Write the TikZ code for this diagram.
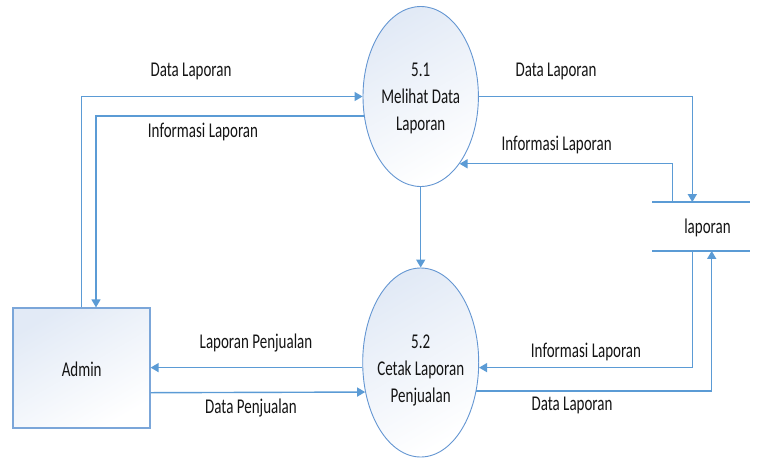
\documentclass[tikz,border=0pt]{standalone}
\usepackage{fontspec}
\setmainfont[FakeStretch=0.714]{Carlito}
\usetikzlibrary{shapes.geometric,arrows.meta}
\definecolor{flowblue}{RGB}{91,155,213}
\definecolor{edgeblue}{RGB}{100,150,210}
\definecolor{fillblue}{RGB}{226,234,246}
\definecolor{txt}{RGB}{20,20,20}
\begin{document}
\begin{tikzpicture}[x=1pt,y=-1pt,
  every node/.style={font=\fontsize{21}{27}\selectfont, text=txt},
  flow/.style={draw=flowblue, line width=1.4pt, -{Triangle[length=8pt,width=9pt]}},
  proc/.style={ellipse, draw=edgeblue, line width=0.9pt, top color=fillblue, bottom color=white, shading angle=30, inner sep=0pt},
  ent/.style={rectangle, draw=edgeblue!85, line width=1.2pt, top color=fillblue, bottom color=white, shading angle=30, inner sep=0pt},
  lbl/.style={anchor=base, inner sep=0pt},
]
\useasboundingbox (0,0) rectangle (758,459);

% processes, entity, store
\node[proc, minimum width=115.4pt, minimum height=180pt] (p51) at (420.7,96.5) {};
\node[proc, minimum width=116pt, minimum height=189pt] (p52) at (420.7,362.5) {};
\node[ent, minimum width=137pt, minimum height=120pt] (admin) at (81.5,368) {};
\node[inner sep=0pt, minimum width=97.3pt, minimum height=48.4pt] (store) at (701.3,226.5) {};
\draw[draw=flowblue, line width=1.4pt] (store.north west) -- (store.north east) (store.south west) -- (store.south east);

% texts in shapes
\node[align=center, inner sep=0pt] (t51) at (420.7,98.5) {5.1\\Melihat Data\\Laporan};
\node[align=center, inner sep=0pt] (t52) at (420.7,370) {5.2\\Cetak Laporan\\Penjualan};
\node[lbl] (admintxt) at (81.7,376.7) {Admin};
\node[lbl] (storetxt) at (707.5,233) {laporan};

% flows
\draw[flow] (admin.north) |- (p51);
\draw[flow] (p51.199.7) -| ([xshift=14.5pt]admin.north);
\draw[flow] (p51.east) -| ([xshift=-9pt]store.north);
\draw[flow] ([xshift=-28.6pt]store.north) |- (p51.300.9);
\draw[flow] (p51.south) -- (p52.north);
\draw[flow] ([xshift=-9pt]store.south) |- (p52.355.3);
\draw[flow] (p52.333) -| ([xshift=10.4pt]store.south);
\draw[flow] (p52.185.7) -- (p52.185.7 -| admin.east);
\draw[flow] ([yshift=-24.7pt]admin.east) -- (p52.208.8);

% flow labels
\node[lbl] (l1) at (191,76) {Data Laporan};
\node[lbl] (l2) at (203,137) {Informasi Laporan};
\node[lbl] (l3) at (556,76) {Data Laporan};
\node[lbl] (l4) at (556.7,150) {Informasi Laporan};
\node[lbl] (l6) at (586,357) {Informasi Laporan};
\node[lbl] (l7) at (572,410) {Data Laporan};
\node[lbl] (l8) at (256,348) {Laporan Penjualan};
\node[lbl] (l9) at (251,413) {Data Penjualan};
\end{tikzpicture}
\end{document}
